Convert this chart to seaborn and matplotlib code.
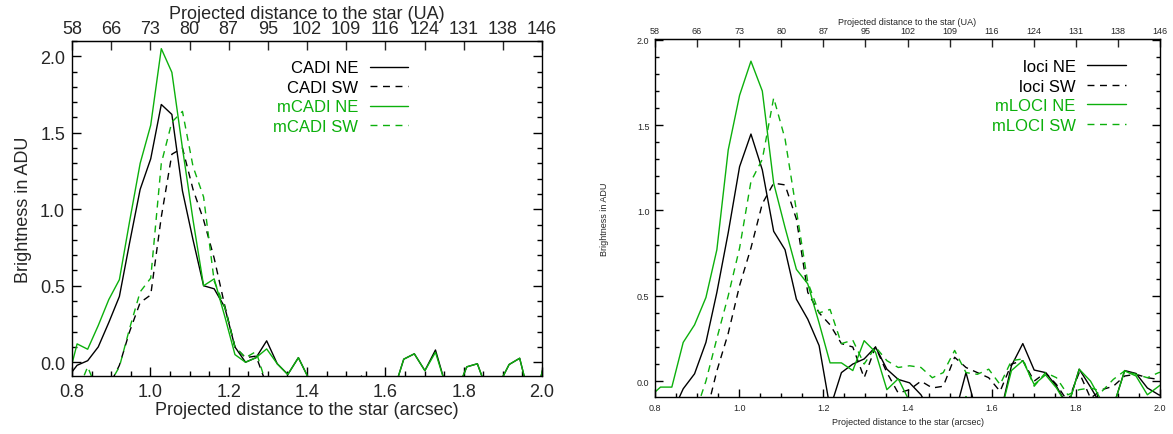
import matplotlib
matplotlib.use("Agg")
import matplotlib.pyplot as plt
from matplotlib.ticker import MultipleLocator
import seaborn as sns

# radial samples (arcsec), shared by all profiles
dist_arcsec = [0.786, 0.813, 0.840, 0.867, 0.894, 0.921, 0.947, 0.974, 1.001, 1.028,
               1.055, 1.082, 1.109, 1.136, 1.163, 1.190, 1.216, 1.243, 1.270, 1.297,
               1.324, 1.351, 1.378, 1.405, 1.432, 1.459, 1.485, 1.512, 1.539, 1.566,
               1.593, 1.620, 1.647, 1.674, 1.701, 1.728, 1.754, 1.781, 1.808, 1.835,
               1.862, 1.889, 1.916, 1.943, 1.970, 1.997, 2.024]

# left panel : CADI / mCADI
cadi_ne = [-0.11, -0.02, 0.01, 0.10, 0.26, 0.43, 0.78, 1.13, 1.33, 1.685,
           1.62, 1.12, 0.80, 0.50, 0.48, 0.36, 0.10, 0.00, 0.03, 0.14,
           -0.01, -0.08, 0.03, -0.11, -0.30, -0.30, -0.30, -0.30, -0.09, -0.30,
           -0.30, -0.20, 0.02, 0.055, -0.055, 0.08, -0.15, -0.20, -0.03, -0.01,
           -0.20, -0.15, -0.015, 0.026, -0.25, -0.10, 0.20]
cadi_sw = [-0.30, -0.30, -0.30, -0.30, -0.16, -0.02, 0.20, 0.39, 0.44, 0.95,
           1.36, 1.40, 1.13, 0.93, 0.68, 0.37, 0.10, 0.03, 0.04, -0.15,
           -0.30, -0.30, -0.30, -0.30, -0.30, -0.30, -0.30, -0.30, -0.30, -0.30,
           -0.30, -0.30, -0.30, -0.30, -0.30, -0.30, -0.30, -0.30, -0.30, -0.30,
           -0.30, -0.30, -0.30, -0.30, -0.30, -0.30, -0.30]
mcadi_ne = [-0.15, 0.12, 0.085, 0.24, 0.41, 0.54, 0.92, 1.30, 1.55, 2.05,
            1.895, 1.40, 0.93, 0.50, 0.545, 0.30, 0.05, 0.00, 0.03, 0.087,
            -0.01, -0.08, 0.03, -0.11, -0.30, -0.30, -0.30, -0.30, -0.30, -0.30,
            -0.30, -0.20, 0.02, 0.055, -0.055, 0.065, -0.15, -0.20, -0.03, -0.01,
            -0.20, -0.15, -0.015, 0.026, -0.25, -0.10, 0.20]
mcadi_sw = [-0.30, -0.20, -0.03, -0.20, -0.15, -0.03, 0.22, 0.46, 0.55, 1.30,
            1.57, 1.64, 1.28, 1.08, 0.53, 0.36, 0.10, 0.03, 0.07, -0.15,
            -0.30, -0.30, -0.30, -0.30, -0.30, -0.30, -0.30, -0.30, -0.30, -0.30,
            -0.30, -0.30, -0.30, -0.30, -0.30, -0.30, -0.30, -0.30, -0.30, -0.30,
            -0.30, -0.30, -0.30, -0.30, -0.30, -0.30, -0.30]

# right panel : LOCI / mLOCI
loci_ne = [-0.30, -0.25, -0.19, -0.045, 0.043, 0.227, 0.52, 0.87, 1.257, 1.448,
           1.238, 0.878, 0.77, 0.48, 0.363, 0.208, -0.16, 0.05, 0.10, 0.13,
           0.20, 0.07, 0.01, -0.01, -0.08, -0.20, -0.20, -0.20, 0.05, -0.20,
           -0.20, -0.20, 0.09, 0.22, 0.065, 0.05, -0.03, -0.15, 0.07, -0.035,
           -0.15, -0.15, 0.062, 0.045, -0.04, -0.08, -0.10]
loci_sw = [-0.30, -0.30, -0.30, -0.30, -0.30, -0.20, 0.06, 0.28, 0.56, 0.78,
           1.04, 1.16, 1.15, 0.95, 0.52, 0.40, 0.33, 0.22, 0.20, 0.02,
           0.20, 0.05, -0.07, -0.05, 0.00, -0.04, -0.03, 0.14, 0.08, 0.05,
           0.02, -0.06, 0.10, 0.12, 0.00, 0.05, -0.02, -0.12, 0.05, -0.10,
           -0.05, -0.03, 0.03, 0.04, 0.02, 0.01, 0.00]
mloci_ne = [-0.095, -0.035, -0.035, 0.227, 0.33, 0.49, 0.77, 1.355, 1.675, 1.875,
            1.70, 1.16, 0.90, 0.655, 0.57, 0.34, 0.107, 0.107, 0.062, 0.237,
            0.17, -0.05, 0.014, -0.12, -0.20, -0.20, -0.20, -0.20, -0.09, -0.20,
            -0.20, -0.20, 0.062, 0.12, -0.02, 0.037, -0.04, -0.15, 0.07, 0.00,
            -0.12, -0.15, 0.06, 0.03, -0.08, -0.03, 0.02]
mloci_sw = [-0.30, -0.30, -0.30, -0.30, -0.20, 0.00, 0.25, 0.50, 0.78, 1.17,
            1.30, 1.66, 1.42, 1.00, 0.58, 0.40, 0.42, 0.22, 0.24, 0.10,
            0.20, 0.12, 0.08, 0.09, 0.08, 0.02, 0.05, 0.18, 0.05, 0.04,
            0.07, -0.02, 0.12, 0.13, -0.03, 0.05, 0.02, -0.08, -0.05, -0.04,
            -0.06, 0.01, 0.06, 0.04, 0.02, 0.05, 0.06]

# top axis: projected distance in UA
ua_ticks = [0.8, 0.9, 1.0, 1.1, 1.2, 1.3, 1.4, 1.5, 1.6, 1.7, 1.8, 1.9, 2.0]
ua_labels = ["58", "66", "73", "80", "87", "95", "102", "109", "116", "124", "131", "138", "146"]

GREEN = "#0cb00c"
DASH = (0, (5, 4))

sns.set_style("ticks")
plt.rcParams["font.family"] = ["Liberation Sans", "DejaVu Sans"]

fig = plt.figure(figsize=(11.73, 4.35), dpi=100)
ax1 = fig.add_axes([72 / 1173, 1 - 377 / 435, 470 / 1173, 335 / 435])
ax2 = fig.add_axes([655 / 1173, 1 - 398 / 435, 505 / 1173, 358 / 435])


def draw_panel(ax, curves, ylim, fs, tick_len, pad, top_pad, ylabpad, xlabpad, leg_anchor):
    for vals, col, ls, lab in curves:
        sns.lineplot(x=dist_arcsec, y=vals, ax=ax, color=col, linestyle=ls,
                     lw=1.0, label=lab, sort=False, errorbar=None)
    ax.set_xlim(0.8, 2.0)
    ax.set_ylim(*ylim)
    ax.xaxis.set_major_locator(MultipleLocator(0.2))
    ax.xaxis.set_minor_locator(MultipleLocator(0.05))
    ax.yaxis.set_major_locator(MultipleLocator(0.5))
    ax.yaxis.set_minor_locator(MultipleLocator(0.1))
    ax.xaxis.set_major_formatter("{x:.1f}")
    ax.yaxis.set_major_formatter("{x:.1f}")
    ax.tick_params(which="both", direction="in", top=False, right=True,
                   labelsize=fs, color="black", pad=pad)
    ax.tick_params(which="major", length=tick_len, width=1)
    ax.tick_params(which="minor", length=tick_len / 2, width=1)
    for sp in ax.spines.values():
        sp.set_linewidth(1.0)
        sp.set_color("black")
    ax.set_xlabel("Projected distance to the star (arcsec)", fontsize=fs, labelpad=xlabpad)
    ax.set_ylabel("Brightness in ADU", fontsize=fs, labelpad=ylabpad)

    top = ax.secondary_xaxis("top")
    top.set_xticks(ua_ticks, ua_labels)
    top.tick_params(direction="in", length=tick_len, width=1, labelsize=fs, pad=top_pad)
    top.set_xlabel("Projected distance to the star (UA)", fontsize=fs, labelpad=1.5)

    ax.legend(loc="upper right", bbox_to_anchor=leg_anchor, frameon=False,
              markerfirst=False, fontsize=12, handlelength=2.3,
              handletextpad=0.7, labelspacing=0.27, borderaxespad=0,
              labelcolor="linecolor")


draw_panel(ax1,
           [(cadi_ne, "black", "-", "CADI NE"),
            (cadi_sw, "black", DASH, "CADI SW"),
            (mcadi_ne, GREEN, "-", "mCADI NE"),
            (mcadi_sw, GREEN, DASH, "mCADI SW")],
           (-0.09, 2.10), 13, 6.5, 5, 3, 6, 1, (0.73, 0.962))

draw_panel(ax2,
           [(loci_ne, "black", "-", "loci NE"),
            (loci_sw, "black", DASH, "loci SW"),
            (mloci_ne, GREEN, "-", "mLOCI NE"),
            (mloci_sw, GREEN, DASH, "mLOCI SW")],
           (-0.093, 2.005), 6.5, 5.5, 4, 3, 20, 4, (0.945, 0.962))

fig.savefig("out.png", dpi=100)
